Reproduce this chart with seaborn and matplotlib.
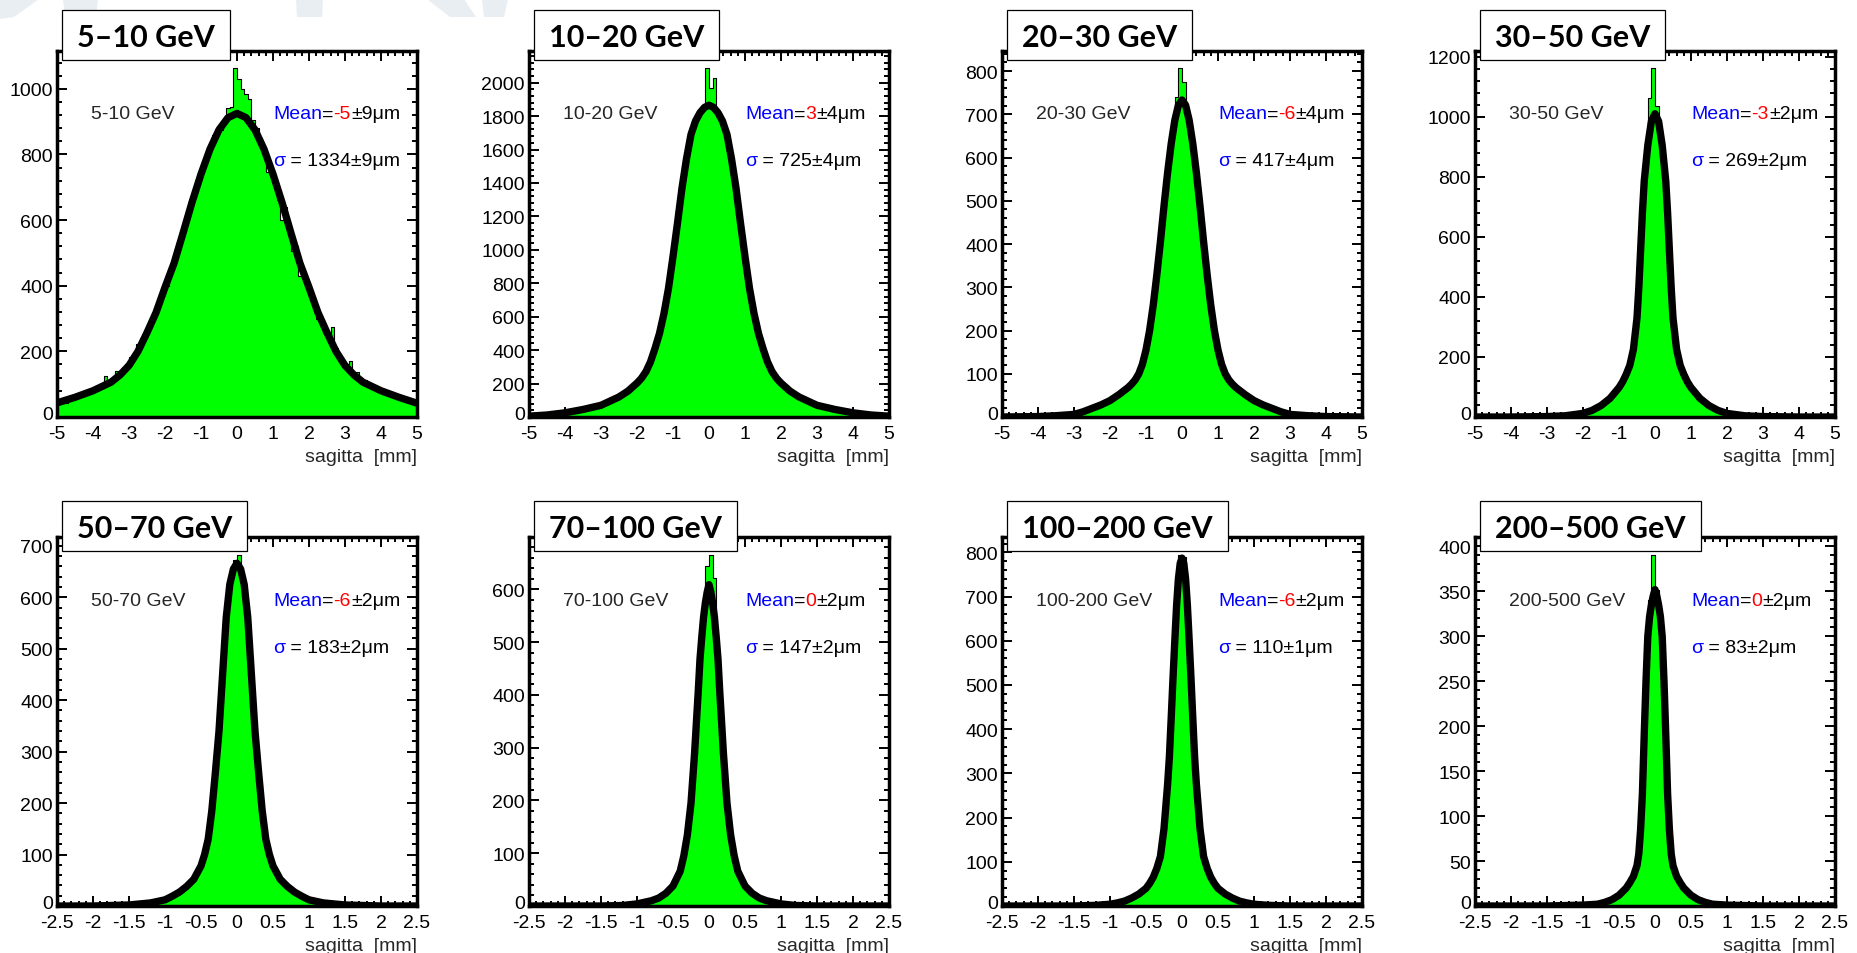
import numpy as np
import pandas as pd
import matplotlib
matplotlib.use("Agg")
import matplotlib.pyplot as plt
import seaborn as sns
from matplotlib.patches import Rectangle, Polygon
from matplotlib.transforms import ScaledTranslation
from matplotlib.ticker import MultipleLocator, AutoMinorLocator, FuncFormatter

# ---------------------------------------------------------------------------
# Momentum bins and fit results
# ---------------------------------------------------------------------------
energy_bins = ["5-10 GeV", "10-20 GeV", "20-30 GeV", "30-50 GeV",
               "50-70 GeV", "70-100 GeV", "100-200 GeV", "200-500 GeV"]
title_labels = ["5–10 GeV", "10–20 GeV", "20–30 GeV", "30–50 GeV",
                "50–70 GeV", "70–100 GeV", "100–200 GeV", "200–500 GeV"]
mean_um = [-5, 3, -6, -3, -6, 0, -6, 0]
mean_err_um = [9, 4, 4, 2, 2, 2, 2, 2]
sigma_um = [1334, 725, 417, 269, 183, 147, 110, 83]
sigma_err_um = [9, 4, 4, 2, 2, 2, 1, 2]

# histogram ranges (mm), number of bins, tick spacing
hist_range = [(-5, 5)] * 4 + [(-2.5, 2.5)] * 4
n_bins = 100
x_major = [1, 1, 1, 1, 0.5, 0.5, 0.5, 0.5]
y_major = [200, 200, 100, 200, 100, 100, 100, 50]

# ---------------------------------------------------------------------------
# Bin contents (entries per bin, left to right)
# ---------------------------------------------------------------------------
counts_5_10 = [
    40, 47, 44, 52, 60, 58, 65, 72, 70, 84,
    86, 92, 88, 125, 108, 118, 140, 135, 145, 160,
    182, 190, 222, 240, 255, 275, 300, 330, 348, 372,
    400, 445, 470, 510, 545, 590, 610, 660, 700, 720,
    770, 800, 820, 858, 860, 875, 900, 940, 945, 1062,
    1030, 1000, 985, 968, 905, 880, 850, 810, 745, 740,
    720, 660, 600, 640, 570, 505, 520, 430, 450, 395,
    375, 335, 300, 295, 255, 240, 273, 210, 190, 168,
    160, 170, 132, 138, 110, 112, 97, 95, 85, 83,
    80, 72, 68, 70, 60, 60, 52, 50, 47, 46]
counts_10_20 = [
    5, 8, 6, 9, 12, 13, 15, 19, 20, 25,
    26, 30, 36, 38, 44, 45, 53, 55, 60, 68,
    73, 80, 92, 98, 110, 125, 140, 160, 180, 195,
    215, 245, 262, 318, 375, 440, 540, 625, 760, 880,
    1030, 1210, 1370, 1500, 1620, 1720, 1790, 1830, 1850, 2085,
    1965, 2025, 1800, 1770, 1730, 1620, 1510, 1360, 1190, 1040,
    870, 740, 630, 520, 450, 370, 330, 260, 245, 210,
    195, 172, 162, 140, 128, 110, 102, 88, 84, 72,
    68, 60, 58, 50, 48, 42, 40, 34, 32, 26,
    25, 20, 19, 15, 14, 11, 10, 8, 7, 5]
counts_20_30 = [
    0, 0, 0, 1, 0, 1, 1, 0, 1, 1,
    1, 2, 1, 2, 2, 3, 3, 4, 4, 5,
    7, 9, 12, 15, 19, 21, 25, 28, 31, 36,
    40, 45, 51, 57, 64, 72, 80, 95, 112, 140,
    180, 232, 290, 362, 450, 530, 598, 662, 740, 806,
    775, 700, 655, 598, 525, 445, 368, 290, 228, 178,
    138, 110, 93, 80, 72, 64, 57, 51, 44, 40,
    36, 32, 28, 25, 21, 18, 15, 12, 10, 7,
    5, 4, 4, 3, 3, 2, 2, 1, 2, 1,
    1, 0, 1, 1, 0, 1, 0, 0, 0, 0]
counts_30_50 = [
    0, 0, 0, 0, 0, 0, 0, 1, 0, 0,
    0, 1, 0, 1, 1, 0, 1, 1, 1, 2,
    2, 2, 3, 3, 4, 4, 5, 6, 8, 10,
    13, 18, 22, 27, 35, 43, 52, 63, 76, 91,
    108, 130, 158, 200, 280, 440, 680, 860, 1063, 1161,
    1035, 960, 840, 660, 420, 270, 195, 152, 125, 105,
    90, 76, 62, 51, 43, 35, 28, 22, 18, 14,
    10, 9, 7, 6, 4, 4, 3, 2, 2, 2,
    1, 1, 1, 1, 0, 1, 0, 0, 1, 0,
    0, 0, 0, 0, 0, 0, 0, 0, 0, 0]
counts_50_70 = [
    0, 0, 0, 0, 0, 0, 0, 0, 0, 0,
    0, 0, 1, 0, 1, 1, 1, 2, 1, 2,
    2, 3, 3, 4, 5, 6, 6, 8, 10, 11,
    14, 17, 21, 25, 30, 35, 41, 49, 58, 72,
    90, 118, 160, 222, 300, 395, 505, 595, 645, 672,
    683, 640, 590, 505, 392, 300, 222, 160, 114, 90,
    70, 60, 48, 42, 35, 29, 25, 20, 17, 14,
    11, 10, 8, 7, 6, 5, 4, 3, 3, 2,
    2, 2, 1, 1, 1, 1, 1, 0, 0, 0,
    0, 0, 0, 0, 0, 0, 0, 0, 0, 0]
counts_70_100 = [
    0, 0, 0, 0, 0, 0, 0, 0, 0, 0,
    0, 0, 0, 0, 0, 0, 0, 0, 0, 0,
    0, 0, 1, 0, 1, 1, 1, 2, 3, 4,
    5, 6, 8, 9, 11, 14, 17, 22, 28, 35,
    45, 58, 80, 117, 165, 245, 350, 470, 550, 644,
    666, 622, 470, 348, 240, 168, 115, 80, 60, 45,
    35, 28, 22, 17, 14, 11, 9, 7, 6, 5,
    4, 3, 2, 1, 1, 1, 0, 1, 0, 0,
    0, 0, 0, 0, 0, 0, 0, 0, 0, 0,
    0, 0, 0, 0, 0, 0, 0, 0, 0, 0]
counts_100_200 = [
    0, 0, 0, 0, 0, 0, 0, 0, 0, 0,
    0, 0, 0, 0, 0, 0, 0, 1, 0, 0,
    0, 1, 0, 1, 1, 1, 2, 2, 3, 4,
    5, 6, 8, 10, 13, 16, 20, 24, 30, 37,
    45, 57, 74, 98, 145, 228, 340, 515, 685, 795,
    790, 670, 505, 335, 222, 142, 97, 75, 58, 45,
    37, 30, 25, 20, 16, 13, 10, 8, 6, 5,
    4, 3, 2, 2, 1, 1, 1, 0, 1, 0,
    0, 0, 0, 0, 1, 0, 0, 0, 0, 0,
    0, 0, 0, 0, 0, 0, 0, 0, 0, 0]
counts_200_500 = [
    0, 0, 0, 0, 0, 0, 0, 0, 0, 0,
    0, 0, 0, 0, 0, 0, 0, 0, 0, 0,
    0, 0, 0, 0, 0, 1, 0, 0, 1, 1,
    1, 2, 2, 3, 3, 4, 5, 6, 8, 11,
    14, 18, 23, 29, 39, 60, 128, 250, 340, 391,
    352, 310, 245, 122, 57, 38, 29, 22, 18, 14,
    11, 8, 6, 5, 4, 3, 2, 2, 1, 1,
    1, 1, 0, 0, 1, 0, 0, 0, 0, 0,
    0, 0, 0, 0, 0, 0, 0, 0, 0, 0,
    0, 0, 0, 0, 0, 0, 0, 0, 0, 0]

# ---------------------------------------------------------------------------
# Fitted resolution curves (sagitta in mm, entries per bin)
# ---------------------------------------------------------------------------
fit_x_5_10 = [-5, -4.5, -4, -3.5, -3.25, -3, -2.75, -2.5, -2.25, -2, -1.75, -1.5,
              -1.25, -1, -0.75, -0.5, -0.25, 0, 0.25, 0.5, 0.75, 1, 1.25, 1.5,
              1.75, 2, 2.25, 2.5, 2.75, 3, 3.25, 3.5, 4, 4.5, 5]
fit_y_5_10 = [43, 60, 80, 106, 128, 157, 200, 257, 318, 395, 468, 560,
              654, 740, 816, 875, 912, 925, 912, 875, 816, 740, 654, 560,
              468, 395, 318, 257, 200, 157, 128, 106, 80, 60, 42]

fit_x_10_20 = [-5, -4.5, -4, -3.5, -3, -2.5, -2.25, -2, -1.875, -1.75, -1.625, -1.5,
               -1.375, -1.25, -1.125, -1, -0.875, -0.75, -0.625, -0.5, -0.375, -0.25,
               -0.125, 0, 0.125, 0.25, 0.375, 0.5, 0.625, 0.75, 0.875, 1, 1.125, 1.25,
               1.375, 1.5, 1.625, 1.75, 1.875, 2, 2.25, 2.5, 3, 3.5, 4, 4.5, 5]
fit_y_10_20 = [5, 12, 25, 45, 70, 120, 155, 203, 232, 272, 330, 410,
               500, 620, 770, 960, 1160, 1370, 1545, 1690, 1770, 1820,
               1852, 1865, 1852, 1820, 1770, 1690, 1545, 1370, 1160, 960, 770, 620,
               500, 410, 330, 272, 232, 203, 155, 120, 70, 45, 25, 12, 5]

fit_x_20_30 = [-5, -4, -3.5, -3, -2.75, -2.5, -2.25, -2, -1.75, -1.5, -1.4, -1.3,
               -1.2, -1.1, -1, -0.9, -0.8, -0.7, -0.6, -0.5, -0.4, -0.3, -0.2, -0.1,
               0, 0.1, 0.2, 0.3, 0.4, 0.5, 0.6, 0.7, 0.8, 0.9, 1, 1.1, 1.2, 1.3,
               1.4, 1.5, 1.75, 2, 2.25, 2.5, 2.75, 3, 3.5, 4, 5]
fit_y_20_30 = [0, 1, 3, 6, 12, 20, 28, 38, 52, 68, 76, 86,
               100, 122, 155, 200, 258, 328, 405, 488, 565, 632, 686, 721,
               733, 721, 686, 632, 565, 488, 405, 328, 258, 200, 155, 122, 100, 86,
               76, 68, 52, 38, 28, 20, 12, 6, 3, 1, 0]

fit_x_30_50 = [-5, -4, -3, -2.5, -2, -1.75, -1.5, -1.25, -1, -0.9, -0.8, -0.7,
               -0.6, -0.5, -0.45, -0.4, -0.35, -0.3, -0.25, -0.2, -0.1, 0,
               0.1, 0.2, 0.25, 0.3, 0.35, 0.4, 0.45, 0.5, 0.6, 0.7, 0.8, 0.9,
               1, 1.25, 1.5, 1.75, 2, 2.5, 3, 4, 5]
fit_y_30_50 = [0, 0, 1.5, 4, 12, 22, 38, 62, 98, 117, 142, 172,
               225, 330, 430, 555, 680, 785, 845, 905, 985, 1010,
               985, 905, 845, 785, 680, 555, 430, 330, 225, 172, 142, 117,
               98, 62, 38, 22, 12, 4, 1.5, 0, 0]

fit_x_50_70 = [-2.5, -2, -1.5, -1.2, -1, -0.9, -0.8, -0.7, -0.6, -0.5, -0.45, -0.4,
               -0.35, -0.3, -0.25, -0.2, -0.15, -0.1, -0.05, 0, 0.05, 0.1, 0.15,
               0.2, 0.25, 0.3, 0.35, 0.4, 0.45, 0.5, 0.6, 0.7, 0.8, 0.9, 1, 1.2,
               1.5, 2, 2.5]
fit_y_50_70 = [0, 0, 2, 6, 12, 19, 27, 38, 52, 78, 100, 130,
               185, 260, 340, 450, 560, 625, 655, 666, 655, 625, 560,
               450, 340, 260, 185, 130, 100, 78, 52, 38, 27, 19, 12, 6,
               2, 0, 0]

fit_x_70_100 = [-2.5, -1.5, -1.2, -1, -0.8, -0.7, -0.6, -0.5, -0.4, -0.35, -0.3, -0.25,
                -0.2, -0.175, -0.15, -0.125, -0.1, -0.075, -0.05, -0.025, 0, 0.025,
                0.05, 0.075, 0.1, 0.125, 0.15, 0.175, 0.2, 0.25, 0.3, 0.35, 0.4,
                0.5, 0.6, 0.7, 0.8, 1, 1.2, 1.5, 2.5]
fit_y_70_100 = [0, 0, 1, 4, 10, 15, 24, 38, 66, 95, 135, 195,
                290, 348, 405, 468, 510, 548, 575, 595, 609, 595,
                575, 548, 510, 468, 405, 348, 290, 195, 135, 95, 66,
                38, 24, 15, 10, 4, 1, 0, 0]

fit_x_100_200 = [-2.5, -1.5, -1.2, -1, -0.9, -0.8, -0.7, -0.6, -0.5, -0.45, -0.4, -0.35,
                 -0.3, -0.25, -0.225, -0.2, -0.175, -0.15, -0.125, -0.1, -0.075, -0.05,
                 -0.025, 0, 0.025, 0.05, 0.075, 0.1, 0.125, 0.15, 0.175, 0.2, 0.225,
                 0.25, 0.3, 0.35, 0.4, 0.45, 0.5, 0.6, 0.7, 0.8, 0.9, 1, 1.2, 1.5, 2.5]
fit_y_100_200 = [0, 0, 1.5, 4, 7, 11, 18, 27, 40, 51, 65, 85,
                 112, 175, 225, 275, 338, 425, 515, 600, 680, 740,
                 775, 787, 775, 740, 680, 600, 515, 425, 338, 275, 225,
                 175, 112, 85, 65, 51, 40, 27, 18, 11, 7, 4, 1.5, 0, 0]

fit_x_200_500 = [-2.5, -1.5, -1, -0.8, -0.7, -0.6, -0.5, -0.4, -0.35, -0.3, -0.25,
                 -0.225, -0.2, -0.175, -0.15, -0.125, -0.1, -0.075, -0.05, -0.025, 0,
                 0.025, 0.05, 0.075, 0.1, 0.125, 0.15, 0.175, 0.2, 0.225, 0.25, 0.3,
                 0.35, 0.4, 0.5, 0.6, 0.7, 0.8, 1, 1.5, 2.5]
fit_y_200_500 = [0, 0, 1, 2, 4, 7, 12, 20, 26, 33, 45,
                 58, 85, 125, 190, 250, 300, 322, 335, 345, 352,
                 345, 335, 322, 300, 250, 190, 125, 85, 58, 45, 33,
                 26, 20, 12, 7, 4, 2, 1, 0, 0]

all_counts = [counts_5_10, counts_10_20, counts_20_30, counts_30_50,
              counts_50_70, counts_70_100, counts_100_200, counts_200_500]
all_fit_x = [fit_x_5_10, fit_x_10_20, fit_x_20_30, fit_x_30_50,
             fit_x_50_70, fit_x_70_100, fit_x_100_200, fit_x_200_500]
all_fit_y = [fit_y_5_10, fit_y_10_20, fit_y_20_30, fit_y_30_50,
             fit_y_50_70, fit_y_70_100, fit_y_100_200, fit_y_200_500]

# ---------------------------------------------------------------------------
# Style
# ---------------------------------------------------------------------------
sns.set_theme(style="white")
plt.rcParams["font.family"] = ["Liberation Sans", "DejaVu Sans"]
plt.rcParams["axes.unicode_minus"] = False

FILL = "#00ff00"
BLUE = "#0000ff"
RED = "#ff0000"
FS = 14

W, H = 1857, 954
fig = plt.figure(figsize=(W / 100, H / 100), dpi=100, facecolor="white")

# pixel layout of the 2 x 4 grid of pads
col_left = [57, 529, 1002, 1475]
row_top = [52, 538]
row_bot = [418, 907]
pad_w = 360
box_top = [11, 502]
box_bot = [61, 552]

fmt = FuncFormatter(lambda v, p: f"{v:g}")


def chain_text(ax, x, y, pieces):
    t = ax.text(x, y, pieces[0][0], color=pieces[0][1], fontsize=FS,
                transform=ax.transAxes, ha="left", va="center")
    for s, col in pieces[1:]:
        t = ax.annotate(s, xy=(1, 0), xycoords=t, ha="left", va="bottom",
                        color=col, fontsize=FS)
    return t


axes_list = []
title_texts = []
for i in range(8):
    r, c = divmod(i, 4)
    ax = fig.add_axes([col_left[c] / W, 1 - row_bot[r] / H,
                       pad_w / W, (row_bot[r] - row_top[r]) / H])
    axes_list.append(ax)
    lo, hi = hist_range[i]
    edges = np.linspace(lo, hi, n_bins + 1)
    hist_df = pd.DataFrame({"sagitta": 0.5 * (edges[:-1] + edges[1:]),
                            "entries": np.asarray(all_counts[i], dtype=float)})
    fit_df = pd.DataFrame({"sagitta": all_fit_x[i], "entries": all_fit_y[i]})

    sns.histplot(data=hist_df, x="sagitta", weights="entries",
                 bins=edges.tolist(), element="step", fill=True, color=FILL,
                 alpha=1, edgecolor="black", linewidth=0.8, ax=ax)
    sns.lineplot(data=fit_df, x="sagitta", y="entries", ax=ax, color="black",
                 linewidth=5.3, sort=False, estimator=None)

    ax.set_xlim(lo, hi)
    ax.set_ylim(0, 1.05 * hist_df["entries"].max())
    ax.set_xlabel("")
    ax.set_ylabel("")
    ax.set_facecolor("white")
    ax.grid(False)

    ax.xaxis.set_major_locator(MultipleLocator(x_major[i]))
    ax.xaxis.set_minor_locator(AutoMinorLocator(5))
    ax.yaxis.set_major_locator(MultipleLocator(y_major[i]))
    ax.yaxis.set_minor_locator(AutoMinorLocator(5))
    ax.xaxis.set_major_formatter(fmt)
    ax.yaxis.set_major_formatter(fmt)
    ax.tick_params(which="both", direction="in", top=True, right=True,
                   bottom=True, left=True, width=1.4, color="black",
                   labelsize=FS, labelcolor="black")
    ax.tick_params(which="major", length=7.2)
    ax.tick_params(which="minor", length=3.6)
    ax.tick_params(axis="x", pad=6)
    ax.tick_params(axis="y", pad=3)
    for sp in ax.spines.values():
        sp.set_visible(True)
        sp.set_linewidth(2.5)
        sp.set_color("black")

    ax.annotate("sagitta  [mm]", xy=(1, 0), xycoords="axes fraction",
                xytext=(0, -28.5), textcoords="offset points",
                ha="right", va="center", fontsize=FS)

    ax.text(0.094, 0.828, energy_bins[i], transform=ax.transAxes,
            fontsize=FS, ha="left", va="center")
    chain_text(ax, 0.6, 0.828, [("Mean", BLUE), ("=", "black"),
                                (f"{mean_um[i]}", RED),
                                (f"±{mean_err_um[i]}μm", "black")])
    chain_text(ax, 0.6, 0.70, [("σ", BLUE),
                               (f" = {sigma_um[i]}±{sigma_err_um[i]}μm", "black")])

    # title label in a framed box over the top-left corner of the pad
    base_px = 0.5 * (box_top[r] + box_bot[r]) + 11
    tt = fig.text((col_left[c] + 20) / W, 1 - base_px / H, title_labels[i],
                  fontsize=22, fontweight="bold", family=["Lato", "DejaVu Sans"],
                  ha="left", va="baseline", color="black", zorder=10)
    title_texts.append((tt, r, c))

# frame each title once its width is known
fig.canvas.draw()
renderer = fig.canvas.get_renderer()
for tt, r, c in title_texts:
    bb = tt.get_window_extent(renderer)
    x0 = col_left[c] + 5
    wpx = (bb.x1 - x0) + 15
    rect = Rectangle((x0 / W, 1 - box_bot[r] / H), wpx / W,
                     (box_bot[r] - box_top[r]) / H, transform=fig.transFigure,
                     facecolor="white", edgecolor="black", linewidth=0.9,
                     zorder=9)
    fig.add_artist(rect)

# lift the "0" count label a little so it clears the sagitta labels
lift = ScaledTranslation(0, 3 / 72, fig.dpi_scale_trans)
for ax in axes_list:
    for tick in ax.yaxis.get_major_ticks():
        if abs(tick.get_loc()) < 1e-9:
            tick.label1.set_transform(tick.label1.get_transform() + lift)

# faint background logo strokes along the top edge
logo_strokes = [
    [(0, 0), (39, 0), (14, 18), (0, 20)],
    [(63, 0), (98, 0), (96, 18), (65, 18)],
    [(296, 0), (323, 0), (322, 18), (297, 18)],
    [(427, 0), (464, 0), (476, 18), (450, 18)],
    [(482, 0), (508, 0), (504, 18), (484, 18)],
]
for pts in logo_strokes:
    fig.add_artist(Polygon([(px / W, 1 - py / H) for px, py in pts],
                           closed=True, transform=fig.transFigure,
                           facecolor="#e9eef3", edgecolor="none", zorder=-1))

fig.savefig("out.png", dpi=100, facecolor="white")
